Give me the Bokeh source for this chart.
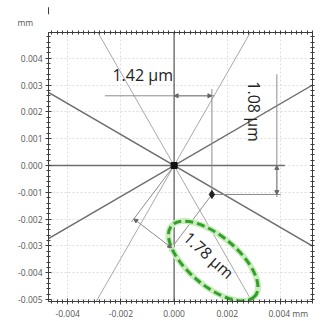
import numpy as np
from bokeh.plotting import figure
from bokeh.models import (Range1d, FixedTicker, LinearAxis, PrintfTickFormatter,
                          Title, Arrow, NormalHead, Grid)
from bokeh.core.properties import value
from bokeh.embed import file_html
from bokeh.resources import INLINE

# axis ticks (mm)
x_ticks = [-0.004, -0.002, 0.0, 0.002, 0.004]
y_ticks = [-0.005, -0.004, -0.003, -0.002, -0.001, 0.0, 0.001, 0.002, 0.003, 0.004]
minor_step = 0.0002
unit = "mm"

# reference rays through the origin (degrees)
dark_angles = [30, -30]
light_angles = [60, -60]

# measured point (mm)
point_x = 0.00142
point_y = -0.00108

# dimension line placement (mm)
h_dim_y = 0.0026
h_dim_start = -0.0026
v_dim_x = 0.00386
v_dim_top = 0.0034
d_dim_offset = 0.0025

# highlight ellipse around the distance label
ell_x, ell_y = 0.00147, -0.00356
ell_w, ell_h = 0.0041, 0.00185
ell_angle_deg = -40

X0, X1 = -0.00472, 0.0052
Y0, Y1 = -0.00507, 0.00496
Y_TIP = 0.0058

AXIS = "#3c3c3c"
DARK = "#6e6e6e"
LIGHT = "#a8a8a8"
DIM = "#8c8c8c"
FONT = "Open Sans"
TICK_FONT = "8.5px"

p = figure(width=327, height=321, x_range=Range1d(X0, X1), y_range=Range1d(Y0, Y1),
           output_backend="svg", toolbar_location=None,
           x_axis_type=None, y_axis_type=None,
           min_border_left=48, min_border_top=32, min_border_right=15, min_border_bottom=17)
p.outline_line_color = AXIS
p.outline_line_width = 1
p.background_fill_color = "white"
p.border_fill_color = "white"

minor = list(np.round(np.arange(-0.006, 0.006 + 1e-9, minor_step), 6))


def make_axis(ticks, show_labels):
    # frame sides without labels only carry tick marks
    ticker = FixedTicker(ticks=ticks if show_labels else [], minor_ticks=minor)
    ax = LinearAxis(ticker=ticker, formatter=PrintfTickFormatter(format="%.3f"))
    ax.axis_line_color = AXIS
    ax.major_tick_line_color = AXIS
    ax.minor_tick_line_color = AXIS
    ax.major_tick_in = 3
    ax.major_tick_out = 3
    ax.minor_tick_in = 2
    ax.minor_tick_out = 2
    ax.major_label_standoff = 3
    ax.major_label_text_font = FONT
    ax.major_label_text_color = "#555555"
    ax.major_label_text_font_size = TICK_FONT
    return ax


x_axis = make_axis(x_ticks, True)
# last x label carries the unit; leading no-break spaces keep the number on its tick
pad = "\u00a0" * 7
x_axis.major_label_overrides = {x_ticks[-1]: f"{pad}{x_ticks[-1]:.3f} {unit}"}
p.add_layout(x_axis, "below")
p.add_layout(make_axis(y_ticks, True), "left")
p.add_layout(make_axis(x_ticks, False), "above")
p.add_layout(make_axis(y_ticks, False), "right")

p.add_layout(Title(text=unit, align="left", offset=-31, standoff=6, text_font=FONT,
                   text_font_size=TICK_FONT, text_font_style="normal",
                   text_color="#555555"), "above")

for dim, ticks in ((0, x_ticks), (1, y_ticks)):
    g = Grid(dimension=dim, ticker=FixedTicker(ticks=ticks))
    g.grid_line_color = "#dedede"
    g.grid_line_dash = "2 2"
    p.add_layout(g)

# rays through the origin
L = 0.02
for angles, color, width in ((light_angles, LIGHT, 1), (dark_angles, DARK, 1.4)):
    a = np.radians(angles)
    p.segment(x0=-L * np.cos(a), y0=-L * np.sin(a), x1=L * np.cos(a), y1=L * np.sin(a),
              line_color=color, line_width=width)

# coordinate cross
p.segment(x0=[0.0], y0=[-L], x1=[0.0], y1=[L], line_color=DARK, line_width=1.4)
p.segment(x0=[-L], y0=[0.0], x1=[v_dim_x + 0.0003], y1=[0.0], line_color=DARK, line_width=1.4)

head = dict(size=4, fill_color="#666666", line_color="#666666")

# horizontal distance
p.segment(x0=[h_dim_start], y0=[h_dim_y], x1=[point_x + 0.0001], y1=[h_dim_y], line_color=DIM)
p.segment(x0=[point_x], y0=[point_y], x1=[point_x], y1=[h_dim_y + 0.00025], line_color=DIM)
p.add_layout(Arrow(start=NormalHead(**head), end=NormalHead(**head),
                   x_start=0.0, y_start=h_dim_y, x_end=point_x, y_end=h_dim_y,
                   line_color=DIM, line_width=1))

# vertical distance
p.segment(x0=[v_dim_x], y0=[v_dim_top], x1=[v_dim_x], y1=[point_y - 0.0001], line_color=DIM)
p.segment(x0=[point_x], y0=[point_y], x1=[v_dim_x + 0.00015], y1=[point_y], line_color=DIM)
p.add_layout(Arrow(start=NormalHead(**head), end=NormalHead(**head),
                   x_start=v_dim_x, y_start=0.0, x_end=v_dim_x, y_end=point_y,
                   line_color=DIM, line_width=1))

# direct distance, offset perpendicular to the measured direction
dist = float(np.hypot(point_x, point_y))
ux, uy = point_x / dist, point_y / dist
nx, ny = uy, -ux
ox0, oy0 = d_dim_offset * nx, d_dim_offset * ny
ox1, oy1 = point_x + d_dim_offset * nx, point_y + d_dim_offset * ny
ext = d_dim_offset + 0.00015
p.segment(x0=[0.0, point_x], y0=[0.0, point_y],
          x1=[ext * nx, point_x + ext * nx], y1=[ext * ny, point_y + ext * ny], line_color=DIM)
p.add_layout(Arrow(start=NormalHead(**head), end=NormalHead(**head),
                   x_start=ox0, y_start=oy0, x_end=ox1, y_end=oy1,
                   line_color=DIM, line_width=1))

# highlight ellipse
ang = np.radians(ell_angle_deg)
p.ellipse(x=[ell_x], y=[ell_y], width=[ell_w], height=[ell_h], angle=[ang],
          fill_color=None, line_color="#c8ecbc", line_width=6)
p.ellipse(x=[ell_x], y=[ell_y], width=[ell_w], height=[ell_h], angle=[ang],
          fill_color=None, line_color="#34a02c", line_width=3, line_dash="8 4")

# markers
p.scatter(x=[0.0], y=[0.0], marker="square", size=6, color="#111111")
p.scatter(x=[point_x], y=[point_y], marker="diamond", size=8, color="#222222")

# distance labels
lab = dict(text_font=value(FONT), text_font_size="16px", text_color="#222222",
           text_align="center", text_baseline="middle")
p.text(x=[-0.00118], y=[0.00338], text=[f"{abs(point_x) * 1000:.2f} µm"], **lab)
p.text(x=[0.00299], y=[0.00201], text=[f"{abs(point_y) * 1000:.2f} µm"], angle=[-np.pi / 2], **lab)
p.text(x=[0.0013], y=[-0.00334], text=[f"{dist * 1000:.2f} µm"], angle=[np.radians(-42)], **lab)

# vertical axis continues above the frame and ends in an arrow tip
p.add_layout(Arrow(end=None, x_start=X0, y_start=Y1, x_end=X0, y_end=Y_TIP,
                   level="overlay", line_color=AXIS, line_width=1))
p.add_layout(Arrow(end=NormalHead(size=7, fill_color=AXIS, line_color=AXIS),
                   x_start=X0, y_start=Y_TIP - 0.0003, x_end=X0, y_end=Y_TIP + 0.0001,
                   level="overlay", line_color=AXIS, line_width=1))

open("out.html", "w").write(file_html(p, INLINE))
